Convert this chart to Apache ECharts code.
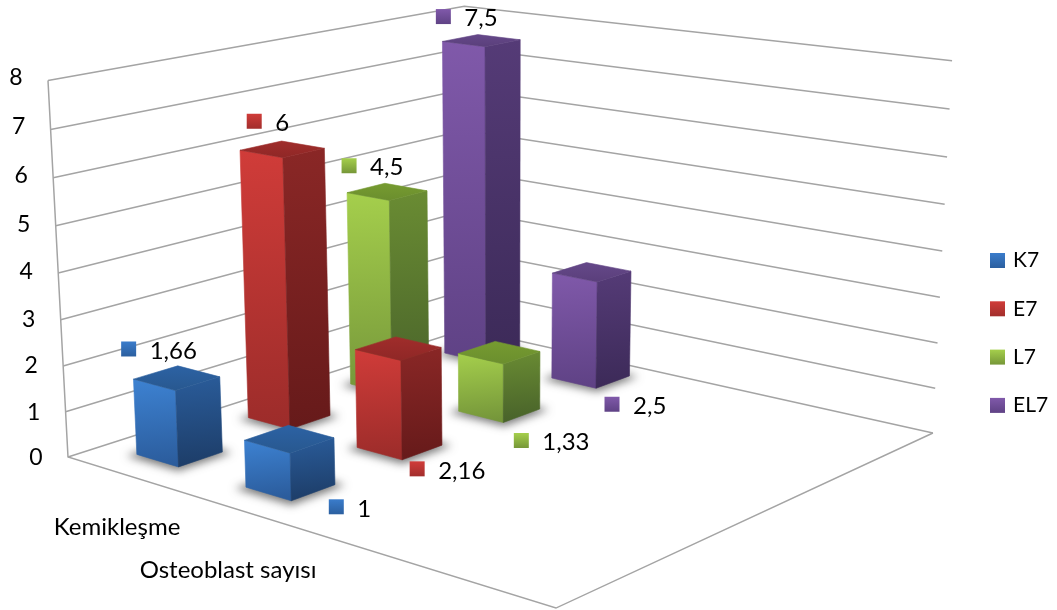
<!DOCTYPE html>
<html><head><meta charset="utf-8">
<style>html,body{margin:0;padding:0;background:#fff}#c{width:1057px;height:610px}</style>
<script src="https://cdn.jsdelivr.net/npm/echarts@6/dist/echarts.min.js"></script>
</head><body><div id="c"></div>
<script>
const categories = ['Kemikleşme', 'Osteoblast sayısı', ' ', '  '];
const seriesNames = ['K7', 'E7', 'L7', 'EL7'];
const k7 = [1.66, 1];
const e7 = [6, 2.16];
const l7 = [4.5, 1.33];
const el7 = [7.5, 2.5];
const tickLabels = [0, 1, 2, 3, 4, 5, 6, 7, 8];

// ---- presentation ----
const FONT = '24px Lato';
const TICK_FONT = '23px Lato';
const palette = [
  {left:['#3d82d2','#2b5c9c'], right:['#2a5c9a','#1d3d68'], top:['#2c62a4','#28588f'], key:['#3a7ccb','#2b5f9f']},
  {left:['#d03c39','#9c2c2a'], right:['#8a2726','#661a1a'], top:['#a02d2b','#8f2726'], key:['#d03c39','#a22e2c']},
  {left:['#a5cf4c','#75963a'], right:['#6a8c33','#48622a'], top:['#769b30','#6b8e2e'], key:['#a5cf4c','#769738']},
  {left:['#8059aa','#5f4285'], right:['#553b77','#3c2a58'], top:['#654889','#5a3f7b'], key:['#8059aa','#5f4285']}
];
// perspective camera mapping the plot box (u along series, v along rows, w height) to the page
const CAM = {a:480.4,b:397.1,c:-22.1,d:68, e:-69.8,f:51.7,g:-380,h:457, p:0.1769,q:-0.1634,r:-0.0436};
const BAR_HALF = 0.049, SERIES_START = 0.13, SERIES_PITCH = 0.256;
const SHADOW_SHIFT = 3000;
// marker nudges in pixels: row 0 from the bar's top centre, row 1 from its front floor corner
const labelNudge = [
  [[-48,-29],[45,6]],
  [[-28,-28],[15,9]],
  [[-38,-26],[18,18]],
  [[-38,-24],[16,16]]
];
const catLabelDrop = [54, 63];

function project(u, v, w) {
  const k = CAM.p*u + CAM.q*v + CAM.r*w + 1;
  return [(CAM.a*u + CAM.b*v + CAM.c*w + CAM.d)/k, (CAM.e*u + CAM.f*v + CAM.g*w + CAM.h)/k];
}
function cube(params, api, row, val) {
  const s = params.coordSys, p = api.coord([row, val]);
  return {v:(p[0]-s.x)/s.width, w:(s.y+s.height-p[1])/s.height};
}
const grad = (c, x2) => ({type:'linear', x:0, y:0, x2:x2||0, y2:1, colorStops:[{offset:0,color:c[0]},{offset:1,color:c[1]}]});

function poly(points, fill, z2) {
  return {type:'polygon', z2, silent:true, shape:{points}, style:{fill, stroke:fill, lineWidth:0.6}};
}

function renderBar(si) {
  return function (params, api) {
    const row = api.value(0), val = api.value(1);
    const {v, w} = cube(params, api, row, val);
    const u = SERIES_START + si*SERIES_PITCH, h = BAR_HALF, pal = palette[si];
    const u0=u-h, u1=u+h, v0=v-h, v1=v+h;
    const P = project;
    const z = 10 + 10*(v-u+1);
    const kids = [];
    // soft floor shadow: the casting shape sits off the page, only its blurred shadow lands on the floor
    const off = p => [p[0]-SHADOW_SHIFT, p[1]];
    kids.push({type:'polygon', z2:1, silent:true,
      shape:{points:[off(P(u0-.012,v0-.012,0)),off(P(u0-.01,v1+.01,0)),off(P(u1+.012,v1+.01,0)),off(P(u1+.012,v0-.012,0))]},
      style:{fill:'#000', shadowBlur:9, shadowColor:'rgba(75,75,75,0.75)', shadowOffsetX:SHADOW_SHIFT, shadowOffsetY:1}});
    kids.push(poly([P(u0,v0,0),P(u0,v1,0),P(u0,v1,w),P(u0,v0,w)], grad(pal.left,0.15), z));
    kids.push(poly([P(u0,v1,0),P(u1,v1,0),P(u1,v1,w),P(u0,v1,w)], grad(pal.right,0.15), z));
    kids.push(poly([P(u0,v0,w),P(u0,v1,w),P(u1,v1,w),P(u1,v0,w)], grad(pal.top), z));
    // data label: colour key plus value
    const n = labelNudge[si][row];
    const anchor = row === 0 ? P(u,v,w) : P(u0,v1,0);
    const mx = anchor[0]+n[0], my = anchor[1]+n[1];
    kids.push({type:'rect', z2:1000, silent:true, shape:{x:mx-7.5,y:my-7.5,width:15,height:15}, style:{fill:grad(pal.key)}});
    kids.push({type:'text', z2:1000, silent:true, style:{text:String(val).replace('.',','), x:mx+21, y:my+2, font:FONT, fill:'#000', align:'left', verticalAlign:'middle'}});
    return {type:'group', children:kids};
  };
}

function renderFrame(params, api) {
  const kids = [];
  const line = pts => ({type:'polyline', z2:0, silent:true, shape:{points:pts}, style:{fill:'none', stroke:'#a4a4a4', lineWidth:1.5}});
  tickLabels.forEach(t => {
    const w = cube(params, api, 0, t).w;
    kids.push(line([project(0,0,w), project(1,0,w), project(1,1,w)]));
    const a = project(0,0,w);
    kids.push({type:'text', silent:true, style:{text:String(t), x:a[0]-32, y:a[1]-w*4+1, font:TICK_FONT, fill:'#000', align:'center', verticalAlign:'middle'}});
  });
  kids.push(line([project(0,0,1), project(0,0,0), project(0,1,0), project(1,1,0)]));
  categories.forEach((c, r) => {
    const t = c.trim();
    if (!t) return;
    const v = cube(params, api, r, 0).v, p = project(0,v,0);
    kids.push({type:'text', silent:true, style:{text:t, x:p[0]-3, y:p[1]+catLabelDrop[r], font:FONT, fill:'#000', align:'center', verticalAlign:'middle'}});
  });
  return {type:'group', children:kids};
}

const values = [k7, e7, l7, el7];
const chart = echarts.init(document.getElementById('c'), null, {renderer:'canvas'});
chart.setOption({
  animation:false,
  backgroundColor:'#fff',
  grid:{left:0, right:0, top:0, bottom:0, containLabel:false},
  xAxis:{type:'category', data:categories, show:false},
  yAxis:{type:'value', min:0, max:8, interval:1, show:false},
  legend:{
    orient:'vertical', left:990, top:250, padding:0, itemWidth:15, itemHeight:15, itemGap:27.3, icon:'rect',
    selectedMode:false, textStyle:{fontFamily:'Lato', fontSize:21, lineHeight:21, color:'#000', padding:[0,0,0,3]},
    data:seriesNames.map((n,i)=>({name:n, itemStyle:{color:grad(palette[i].key)}}))
  },
  series:[
    {type:'custom', name:'frame', z:1, silent:true, clip:false, renderItem:renderFrame, data:[[0,0]], encode:{x:0,y:1}}
  ].concat(seriesNames.map((n,i)=>({
    type:'custom', name:n, z:2, silent:true, clip:false, itemStyle:{color:palette[i].key[0]},
    renderItem:renderBar(i), encode:{x:0,y:1},
    data:values[i].map((val,row)=>[row,val])
  })))
});
</script></body></html>
